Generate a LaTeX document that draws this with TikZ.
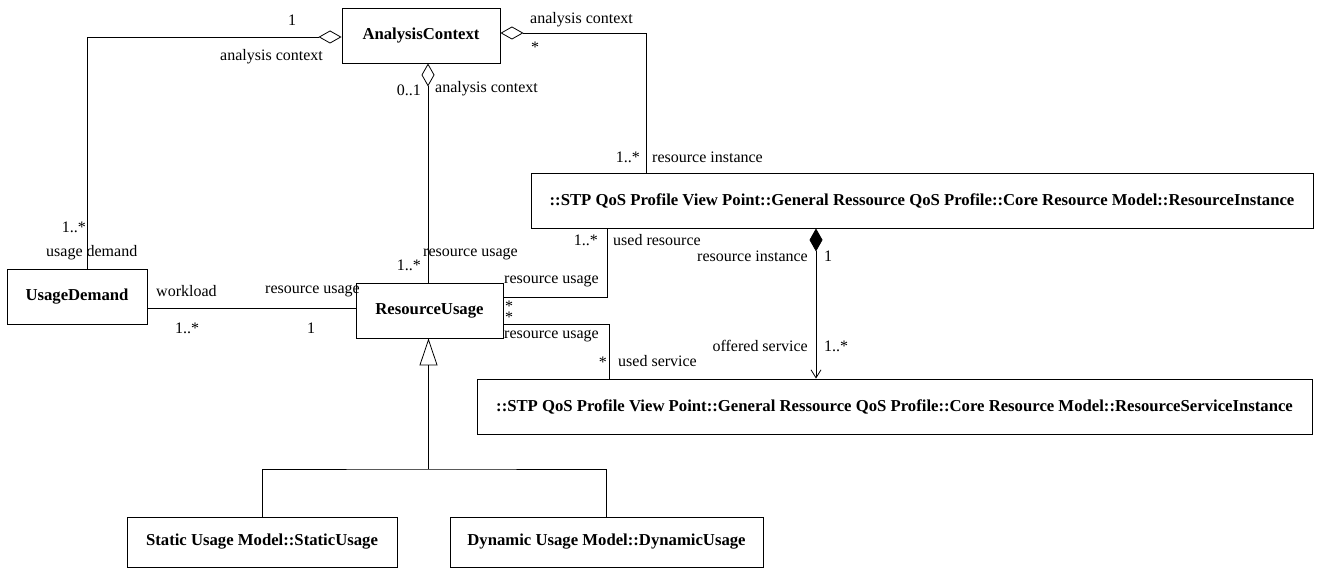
\documentclass[tikz,border=0pt]{standalone}
\usepackage{fontspec}
\setmainfont{Liberation Serif}
\usetikzlibrary{arrows.meta,calc}
\begin{document}
\begin{tikzpicture}[x=1pt,y=1pt,
  cls/.style={draw,line width=0.9pt,rectangle,inner sep=0pt,font=\fontsize{16.7}{18}\selectfont\bfseries},
  lbl/.style={inner sep=0pt,font=\fontsize{16}{18}\selectfont},
  conn/.style={line width=0.8pt},
  agg/.style={conn,{Diamond[open,length=23pt,width=13pt]}-},
  comp/.style={conn,{Diamond[length=23pt,width=13pt]}-{Straight Barb[length=8pt,width=10pt]}},
  gen/.style={conn,{Triangle[open,length=27pt,width=18pt]}-}
]
\useasboundingbox (0,0) rectangle (1317,568);
% classes
\node[cls,minimum width=158pt,minimum height=55pt] (ac) at (421,532.5) {AnalysisContext};
\node[cls,minimum width=140pt,minimum height=55pt] (ud) at (77,271.5) {UsageDemand};
\node[cls,minimum width=147pt,minimum height=55pt] (ru) at (429.5,257.5) {ResourceUsage};
\node[cls,minimum width=782pt,minimum height=55pt] (ri) at (922,367.5) {::STP QoS Profile View Point::General Ressource QoS Profile::Core Resource Model::ResourceInstance};
\node[cls,minimum width=835pt,minimum height=55pt] (rsi) at (894.5,161.5) {::STP QoS Profile View Point::General Ressource QoS Profile::Core Resource Model::ResourceServiceInstance};
\node[cls,minimum width=270pt,minimum height=50pt] (su) at (262,26) {Static Usage Model::StaticUsage};
\node[cls,minimum width=313pt,minimum height=50pt] (du) at (606.5,26) {Dynamic Usage Model::DynamicUsage};
% connectors
\draw[agg] ([yshift=-1.5pt]ac.west) -| ([xshift=10pt]ud.north);
\draw[agg] ([xshift=7pt]ac.south) -- ([xshift=7pt]ac.south |- ru.north);
\draw[agg] ([yshift=2.5pt]ac.east) -| ([xshift=-276pt]ri.north);
\draw[conn] ([xshift=-315pt]ri.south) |- ([yshift=13.5pt]ru.east);
\draw[conn] ([yshift=-13.5pt]ru.east) -| ([xshift=-285.5pt]rsi.north);
\draw[conn] ([yshift=-11.5pt]ud.east) -- ([yshift=-11.5pt]ud.east -| ru.west);
\draw[comp] ([xshift=-106pt]ri.south) -- ([xshift=-106pt]ri.south |- rsi.north);
\draw[gen] ([xshift=-1pt]ru.south) -- ([xshift=-1pt]ru.south |- 0,99) coordinate (gb);
\draw[conn] (su.north) |- (gb) -| (du.north);
% labels
\node[lbl] at (292,548) {1};
\node[lbl,anchor=west] at (220,511) {analysis context};
\node[lbl,anchor=east] at (421,478) {0..1};
\node[lbl,anchor=west] at (435,479) {analysis context};
\node[lbl,anchor=west] at (530,548) {analysis context};
\node[lbl,anchor=west] at (531,521) {*};
\node[lbl,anchor=east] at (640,411) {1..*};
\node[lbl,anchor=west] at (652,411) {resource instance};
\node[lbl,anchor=east] at (86,341) {1..*};
\node[lbl,anchor=west] at (46,315) {usage demand};
\node[lbl,anchor=west] at (156,277) {workload};
\node[lbl,anchor=west] at (265,277) {resource usage};
\node[lbl,anchor=west] at (175,240) {1..*};
\node[lbl] at (311,240) {1};
\node[lbl,anchor=west] at (423,314) {resource usage};
\node[lbl,anchor=east] at (421,303) {1..*};
\node[lbl,anchor=east] at (598,328) {1..*};
\node[lbl,anchor=west] at (613,328) {used resource};
\node[lbl,anchor=west] at (504,287) {resource usage};
\node[lbl,anchor=west] at (505,262) {*};
\node[lbl,anchor=west] at (505,251) {*};
\node[lbl,anchor=west] at (504,232) {resource usage};
\node[lbl,anchor=east] at (607,206) {*};
\node[lbl,anchor=west] at (618,207) {used service};
\node[lbl,anchor=east] at (808,312) {resource instance};
\node[lbl,anchor=west] at (824,312) {1};
\node[lbl,anchor=east] at (808,222) {offered service};
\node[lbl,anchor=west] at (824,222) {1..*};
\end{tikzpicture}
\end{document}
